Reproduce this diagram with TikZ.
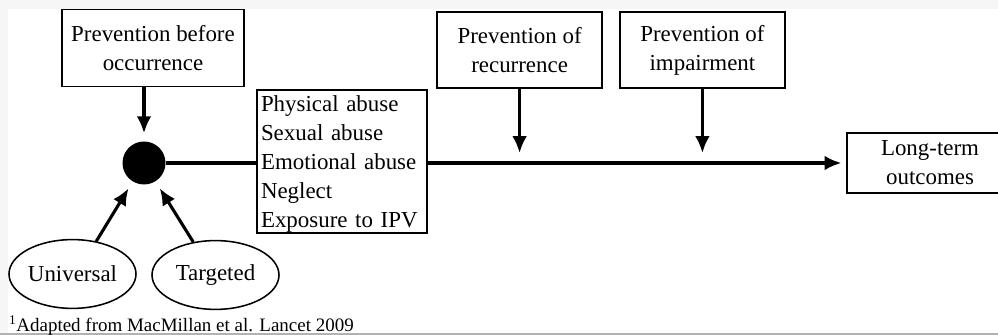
\documentclass[tikz,border=0pt]{standalone}
\usepackage{fontspec}
\setmainfont{Liberation Serif}
\usetikzlibrary{shapes,arrows,arrows.meta}

\tikzset{
  box/.style={draw, line width=1.1pt, align=center, inner sep=2pt},
  oval/.style={ellipse, draw, line width=1.1pt, minimum width=3.175cm, minimum height=1.72cm, inner sep=0pt},
  arr/.style={line width=2.2pt, -{Latex[length=12pt,width=10.5pt]}},
  bigtext/.style={font=\fontsize{16.3}{20.6}\selectfont},
}

\begin{document}
\begin{tikzpicture}[bigtext]
\useasboundingbox (0,0) rectangle (24.95,8.375);
\clip (0,0) rectangle (24.95,8.375);
\fill [gray!7] (0,0) rectangle (24.95,8.375);
\fill [white] (0.2,0.05) rectangle (24.95,8.15);
\fill [gray!60] (0,0) rectangle (24.95,0.05);

\node [box, minimum width=4.55cm, minimum height=1.925cm] (before) at (3.825,7.175) {Prevention before\\occurrence};
\node [circle, fill=black, minimum size=1.075cm, inner sep=0pt] (dot) at (3.6,4.3) {};
\node [box, align=left, text width=4.05cm, minimum height=3.575cm, inner xsep=0.1cm, inner ysep=0pt] (types) at (8.55,4.34) {\rule{0pt}{15pt}Physical abuse\\Sexual abuse\\Emotional abuse\\Neglect\\Exposure to IPV};
\node [box, minimum width=4.125cm, minimum height=1.9cm] (recur) at (12.99,7.125) {Prevention of\\recurrence};
\node [box, minimum width=4.125cm, minimum height=1.9cm] (impair) at (17.56,7.125) {Prevention of\\impairment};
\node [box, minimum width=4.15cm, minimum height=1.5cm] (outcomes) at (23.25,4.3) {Long-term\\outcomes};
\node [oval] (universal) at (1.8125,1.525) {Universal};
\node [oval] (targeted) at (5.3875,1.5) {Targeted};
\node [anchor=base west, inner sep=0pt, font=\fontsize{13.5}{16}\selectfont] (source) at (0.22,0.08) {\textsuperscript{1}Adapted from MacMillan et al. Lancet 2009};

\draw [arr, shorten >=0.2cm] (before.south -| dot) -- (dot);
\draw [line width=2.2pt] (dot.east) -- (dot.east -| types.west);
\draw [arr, shorten >=0.12cm] (types.east |- outcomes.west) -- (outcomes.west);
\draw [arr, shorten >=0.25cm] (recur.south) -- (recur.south |- outcomes.west);
\draw [arr, shorten >=0.25cm] (impair.south) -- (impair.south |- outcomes.west);
\draw [arr, shorten >=0.2cm] (universal.54) -- (dot);
\draw [arr, shorten >=0.2cm] (targeted.124) -- (dot);
\end{tikzpicture}
\end{document}
